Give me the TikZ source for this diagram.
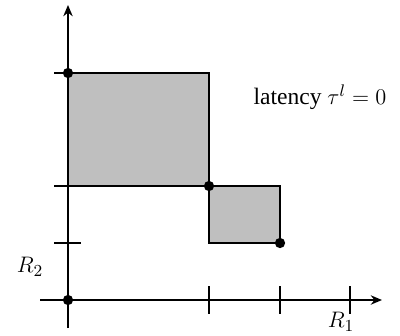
\documentclass[tikz,border=0pt]{standalone}
\usepackage{fontspec}
\setmainfont{Liberation Serif}
\usetikzlibrary{arrows.meta}
\begin{document}
\begin{tikzpicture}[x=0.535pt,y=-0.535pt,
  axis/.style={line width=1.3pt,-{Stealth[length=6pt,width=5pt]}},
  tick/.style={line width=1.3pt},
  region/.style={fill=black!25,draw=black,line width=1.3pt},
  dot/.style={circle,fill=black,inner sep=0pt,minimum size=5.5pt},
  lbl/.style={font=\fontsize{12.6pt}{14pt}\selectfont}]
\useasboundingbox (0,0) rectangle (400,335);
% coordinates
\coordinate (O) at (68,300);
\coordinate (yb) at (68,328);
\coordinate (yt) at (68,5);
\coordinate (xl) at (40,300);
\coordinate (xr) at (382,300);
\coordinate (A) at (68,73);
\coordinate (B) at (209,186);
\coordinate (C) at (280,243);
% regions
\draw[region] (A) rectangle (B);
\draw[region] (B) rectangle (C);
% axes
\draw[axis] (yb) -- (yt);
\draw[axis] (xl) -- (xr);
% y ticks
\foreach \n/\y in {ya/73,yb2/186,yc/243}{
  \coordinate (\n l) at (54,\y);
  \coordinate (\n r) at (81,\y);
  \draw[tick] (\n l) -- (\n r);
}
% x ticks
\foreach \n/\x in {xa/209,xb2/280,xc/350}{
  \coordinate (\n t) at (\x,286);
  \coordinate (\n b) at (\x,314);
  \draw[tick] (\n t) -- (\n b);
}
% dots
\node[dot] (dA) at (A) {};
\node[dot] (dB) at (B) {};
\node[dot] (dC) at (C) {};
\node[dot] (dO) at (O) {};
% labels
\node[lbl] (lat) at (320,97) {latency $\tau^l = 0$};
\node[lbl] (R2) at (30,267) {$R_2$};
\node[lbl] (R1) at (341,322) {$R_1$};
\end{tikzpicture}
\end{document}
